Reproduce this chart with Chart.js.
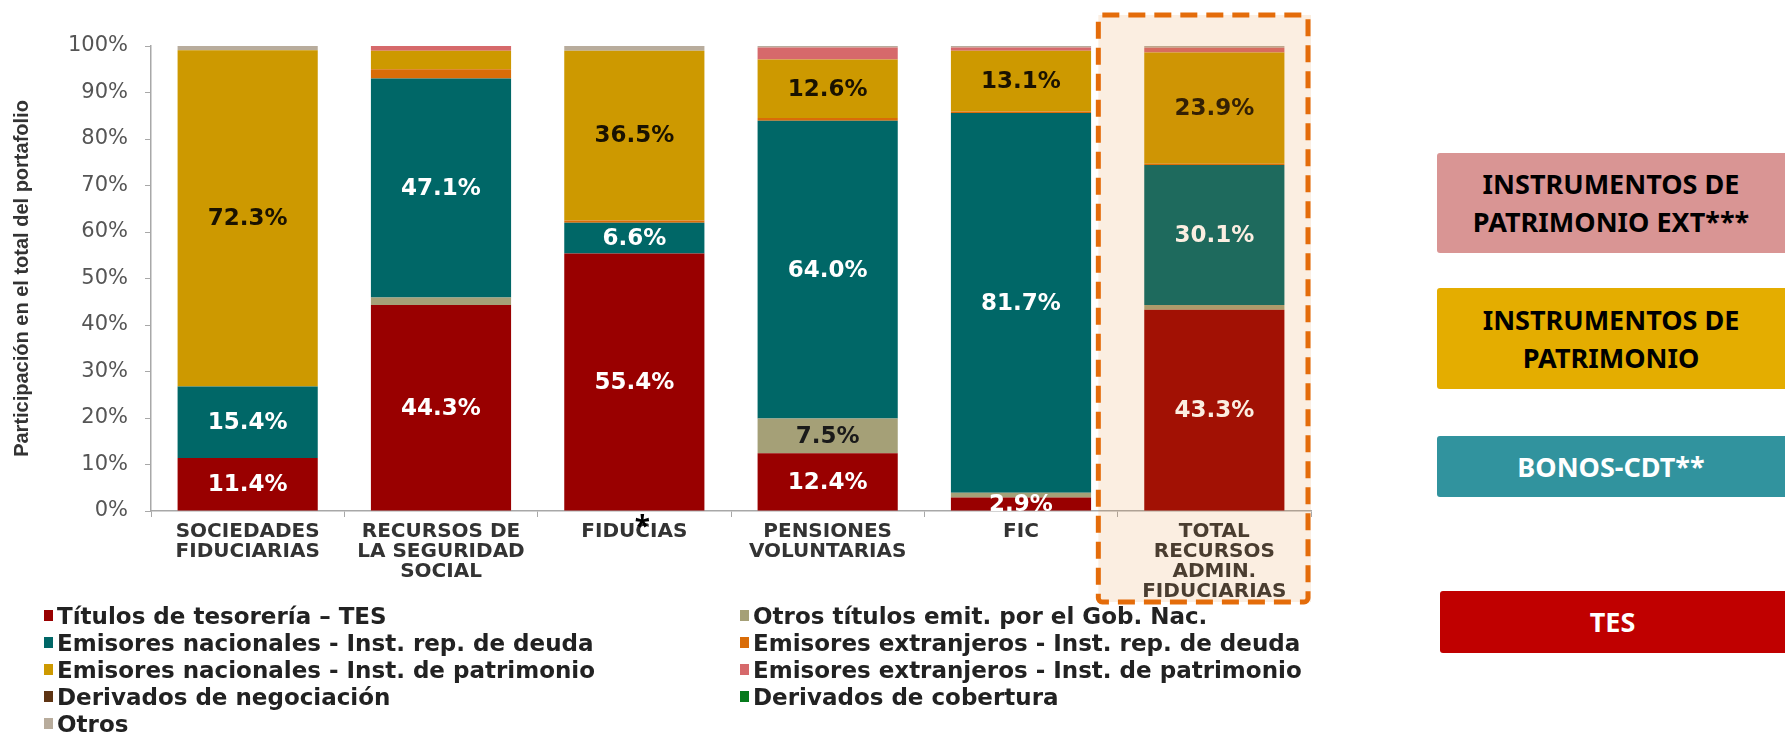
<!DOCTYPE html>
<html lang="es">
<head>
<meta charset="utf-8">
<title>Composición del portafolio</title>
<script src="https://cdn.jsdelivr.net/npm/chart.js@4.4.1/dist/chart.umd.min.js"></script>
<style>
  html, body {
    margin: 0;
    padding: 0;
    background: #ffffff;
  }
  #page {
    position: relative;
    width: 1785px;
    height: 733px;
    overflow: hidden;
  }
  #chartWrap {
    position: absolute;
    left: 0;
    top: 0;
    width: 1330px;
    height: 610px;
  }
  #legend {
    position: absolute;
    left: 44px;
    top: 602px;
    display: grid;
    grid-template-columns: 696px auto;
    grid-auto-rows: 27px;
    font-family: "DejaVu Sans", sans-serif;
    font-weight: bold;
    font-size: 23px;
    color: #222;
  }
  .legend-item {
    display: flex;
    align-items: center;
    white-space: nowrap;
  }
  .legend-box {
    width: 9px;
    height: 11px;
    margin-right: 4px;
  }
  .cat-box {
    position: absolute;
    right: 0;
    display: flex;
    align-items: center;
    justify-content: center;
    text-align: center;
    font-family: "Noto Sans", sans-serif;
    font-weight: bold;
    font-size: 27px;
    line-height: 38px;
    border-radius: 3px 0 0 3px;
  }
</style>
</head>
<body>
<div id="page">
  <div id="chartWrap"><canvas id="portafolioChart" width="1330" height="610"></canvas></div>
  <div id="legend"></div>
  <div id="boxes"></div>
</div>

<script>
// ============================================
// Datos (participación % en el total del portafolio)
// ============================================

const categorias = [
  ["SOCIEDADES", "FIDUCIARIAS"],
  ["RECURSOS DE", "LA SEGURIDAD", "SOCIAL"],
  "FIDUCIAS",
  ["PENSIONES", "VOLUNTARIAS"],
  "FIC",
  ["TOTAL", "RECURSOS", "ADMIN.", "FIDUCIARIAS"],
];

const tes = [11.4, 44.3, 55.4, 12.4, 2.9, 43.3];
const otrosGob = [0, 1.6, 0, 7.5, 1.0, 1.0];
const nacDeuda = [15.4, 47.1, 6.6, 64.0, 81.7, 30.1];
const extDeuda = [0, 2.0, 0.5, 0.6, 0.3, 0.3];
const nacPatrimonio = [72.3, 4.0, 36.5, 12.6, 13.1, 23.9];
const extPatrimonio = [0, 1.0, 0, 2.6, 0.7, 1.0];
const derivNegociacion = [0, 0, 0, 0, 0, 0];
const derivCobertura = [0, 0, 0, 0, 0, 0];
const otros = [0.9, 0, 1.0, 0.3, 0.3, 0.4];

const yTicks = [0, 10, 20, 30, 40, 50, 60, 70, 80, 90, 100];

// series en orden de apilado (de abajo hacia arriba)
const series = [
  { label: "Títulos de tesorería – TES", data: tes, color: "#990000", text: "#ffffff" },
  { label: "Otros títulos emit. por el Gob. Nac.", data: otrosGob, color: "#A5A077", text: "#1a1a1a" },
  { label: "Emisores nacionales - Inst. rep. de deuda", data: nacDeuda, color: "#006767", text: "#ffffff" },
  { label: "Emisores extranjeros - Inst. rep. de deuda", data: extDeuda, color: "#D96C08", text: "#1a1a1a" },
  { label: "Emisores nacionales - Inst. de patrimonio", data: nacPatrimonio, color: "#CD9900", text: "#1a1200" },
  { label: "Emisores extranjeros - Inst. de patrimonio", data: extPatrimonio, color: "#D6696B", text: "#1a1a1a" },
  { label: "Derivados de negociación", data: derivNegociacion, color: "#5E3413", text: "#ffffff" },
  { label: "Derivados de cobertura", data: derivCobertura, color: "#067A1C", text: "#ffffff" },
  { label: "Otros", data: otros, color: "#B8AC9C", text: "#1a1a1a" },
];

// cajas de la derecha
const cajas = [
  { text: "INSTRUMENTOS DE<br>PATRIMONIO EXT***", bg: "#D99594", fg: "#000", top: 153, height: 100, left: 1437 },
  { text: "INSTRUMENTOS DE<br>PATRIMONIO", bg: "#E4AD00", fg: "#000", top: 288, height: 101, left: 1437 },
  { text: "BONOS-CDT**", bg: "#31939E", fg: "#fff", top: 436, height: 61, left: 1437 },
  { text: "TES", bg: "#C00000", fg: "#fff", top: 591, height: 62, left: 1440 },
];

// ============================================
// Plugins
// ============================================

// etiquetas de porcentaje dentro de cada segmento
const segmentLabels = {
  id: "segmentLabels",
  afterDatasetsDraw(chart) {
    const { ctx, chartArea } = chart;
    ctx.save();
    ctx.beginPath();
    ctx.rect(chartArea.left, chartArea.top, chartArea.width, chartArea.height);
    ctx.clip();
    ctx.font = 'bold 23px "DejaVu Sans"';
    ctx.textAlign = "center";
    ctx.textBaseline = "middle";
    chart.data.datasets.forEach((ds, i) => {
      const meta = chart.getDatasetMeta(i);
      meta.data.forEach((bar, j) => {
        const v = ds.data[j];
        if (!(v >= 5 || (i === 0 && v > 0))) return;
        const { x, y, base } = bar.getProps(["x", "y", "base"], true);
        ctx.fillStyle = series[i].text;
        ctx.fillText(v.toFixed(1) + "%", x, (y + base) / 2 + 1);
      });
    });
    ctx.restore();
  },
};

// recuadro punteado del total + asterisco de fiducias
const totalHighlight = {
  id: "totalHighlight",
  afterDraw(chart) {
    const { ctx, chartArea } = chart;
    const xScale = chart.scales.x;
    const left = xScale.getPixelForValue(categorias.length - 1) - 116;
    const right = chartArea.right;
    const top = 15;
    const bottom = 602;

    ctx.save();
    ctx.fillStyle = "rgba(225, 130, 27, 0.135)";
    ctx.fillRect(left, top, right - left, bottom - top);

    ctx.strokeStyle = "#E46C0A";
    ctx.lineWidth = 5;
    ctx.setLineDash([17, 9]);
    ctx.beginPath();
    ctx.roundRect(left, top, right - left - 3, bottom - top, 4);
    ctx.stroke();
    ctx.setLineDash([]);

    ctx.fillStyle = "#000";
    ctx.font = 'bold 28px "Noto Sans"';
    ctx.textAlign = "center";
    ctx.textBaseline = "alphabetic";
    ctx.fillText("*", xScale.getPixelForValue(2) + 8, chartArea.bottom + 25);
    ctx.restore();
  },
};

// ============================================
// Gráfico
// ============================================

function buildChart() {
  const ctx = document.getElementById("portafolioChart").getContext("2d");

  return new Chart(ctx, {
    type: "bar",
    data: {
      labels: categorias,
      datasets: series.map((s) => ({
        label: s.label,
        data: s.data,
        backgroundColor: s.color,
        borderWidth: 0,
        barPercentage: 0.725,
        categoryPercentage: 1,
      })),
    },
    options: {
      responsive: false,
      animation: false,
      layout: {
        padding: { top: 46, right: 19, left: 0, bottom: 0 },
      },
      plugins: {
        legend: { display: false },
        tooltip: { enabled: false },
      },
      scales: {
        x: {
          stacked: true,
          grid: {
            offset: true,
            drawOnChartArea: false,
            drawTicks: true,
            tickLength: 6,
            color: "#a8a8a8",
          },
          border: { color: "#a8a8a8", width: 1.5 },
          ticks: {
            color: "#333",
            padding: 5,
            maxRotation: 0,
            autoSkip: false,
            font: { family: "DejaVu Sans", weight: "bold", size: 20, lineHeight: 1.0 },
          },
          afterFit: (scale) => {
            scale.height = 99;
          },
        },
        y: {
          stacked: true,
          min: 0,
          max: 100,
          afterBuildTicks: (scale) => {
            scale.ticks = yTicks.map((v) => ({ value: v }));
          },
          grid: {
            drawOnChartArea: false,
            drawTicks: true,
            tickLength: 6,
            color: "#a8a8a8",
          },
          border: { color: "#a8a8a8", width: 1.5 },
          ticks: {
            color: "#555",
            padding: 17,
            font: { family: "DejaVu Sans", size: 21 },
            callback: (v) => v + "%",
          },
          title: {
            display: true,
            text: "Participación en el total del portafolio",
            color: "#333",
            padding: { top: 10, bottom: 0 },
            font: { family: "Liberation Sans", weight: "bold", size: 20 },
          },
          afterFit: (scale) => {
            scale.width = 151;
          },
        },
      },
    },
    plugins: [segmentLabels, totalHighlight],
  });
}

// ============================================
// Leyenda y cajas
// ============================================

function buildLegend() {
  const legend = document.getElementById("legend");
  legend.innerHTML = series
    .map(
      (s) => `
        <div class="legend-item">
          <span class="legend-box" style="background:${s.color}"></span>${s.label}
        </div>`,
    )
    .join("");
}

function buildBoxes() {
  const wrap = document.getElementById("boxes");
  wrap.innerHTML = cajas
    .map(
      (c) => `
        <div class="cat-box" style="left:${c.left}px;top:${c.top}px;height:${c.height}px;background:${c.bg};color:${c.fg}">
          <span>${c.text}</span>
        </div>`,
    )
    .join("");
}

document.addEventListener("DOMContentLoaded", () => {
  buildLegend();
  buildBoxes();
  window._portafolioChart = buildChart();
});
</script>
</body>
</html>
